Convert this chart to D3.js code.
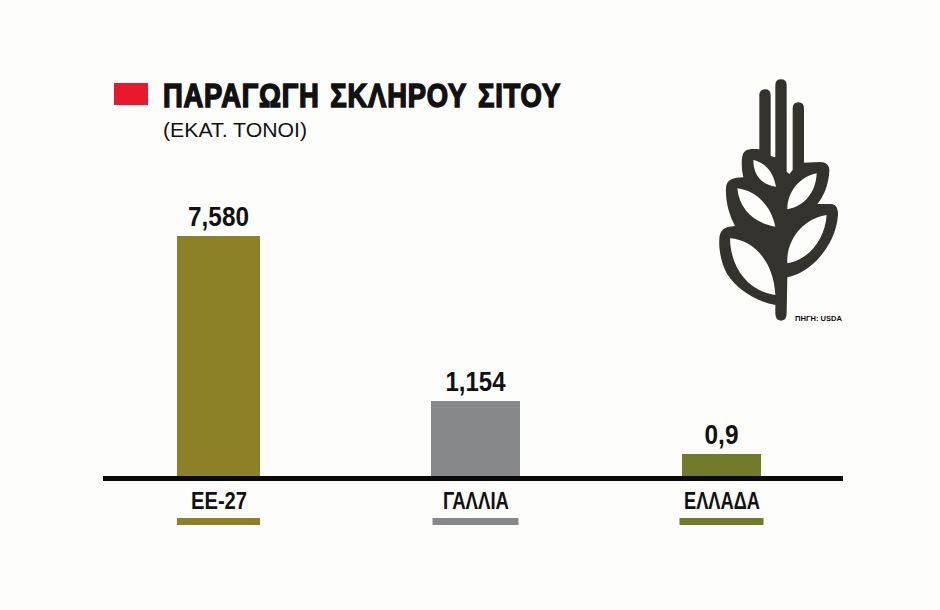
<!DOCTYPE html>
<html>
<head>
<meta charset="utf-8">
<script src="https://d3js.org/d3.v7.min.js"></script>
<style>
  html, body { margin: 0; padding: 0; background: #fdfdfc; }
  svg { display: block; }
  text { font-family: "Liberation Sans", sans-serif; fill: #111; }
</style>
</head>
<body>
<div id="chart"></div>
<script>
// data
var categories = ["ΕΕ-27", "ΓΑΛΛΙΑ", "ΕΛΛΑΔΑ"];
var values = [7.58, 1.154, 0.9];
var valueLabels = ["7,580", "1,154", "0,9"];
var barColors = ["#8d8128", "#87888a", "#727a2c"];

var svgWidth = 940;
var svgHeight = 610;

var svg = d3.select("#chart")
  .append("svg")
  .attr("width", svgWidth)
  .attr("height", svgHeight);

// the printed bars are not to scale, so the y scale is piecewise to follow them
var yScale = d3.scaleLinear()
  .domain([0, 0.9, 1.154, 7.58])
  .range([478, 454, 401, 236]);

// bars are unevenly placed in the original
var xScale = d3.scaleOrdinal()
  .domain(categories)
  .range([218.5, 475.5, 721.5]);

var barWidth = d3.scaleOrdinal().domain(categories).range([83, 89, 79]);
var keyWidth = d3.scaleOrdinal().domain(categories).range([83, 86, 84]);
var color = d3.scaleOrdinal().domain(categories).range(barColors);

// no condensed font here, so the labels get squeezed to their original widths
var valueLength = d3.scaleOrdinal().domain(categories).range([61, 60, 34]);
var labelLength = d3.scaleOrdinal().domain(categories).range([56, 66, 76]);

// title block
svg.append("rect")
  .attr("x", 114).attr("y", 83)
  .attr("width", 34).attr("height", 22)
  .attr("fill", "#e8192c");

svg.append("text")
  .attr("x", 163).attr("y", 107)
  .attr("font-size", 34)
  .attr("font-weight", 700)
  .attr("stroke", "#111")
  .attr("stroke-width", 1.6)
  .attr("letter-spacing", 1)
  .attr("word-spacing", 3)
  .attr("textLength", 398)
  .attr("lengthAdjust", "spacingAndGlyphs")
  .text("ΠΑΡΑΓΩΓΗ ΣΚΛΗΡΟΥ ΣΙΤΟΥ");

svg.append("text")
  .attr("x", 163).attr("y", 137)
  .attr("font-size", 21)
  .attr("fill", "#222")
  .attr("textLength", 144)
  .attr("lengthAdjust", "spacingAndGlyphs")
  .text("(ΕΚΑΤ. ΤΟΝΟΙ)");

// bars
svg.selectAll(".bar")
  .data(categories)
  .enter()
  .append("rect")
  .attr("class", "bar")
  .attr("x", d => xScale(d) - barWidth(d) / 2)
  .attr("y", (d, i) => yScale(values[i]))
  .attr("width", d => barWidth(d))
  .attr("height", (d, i) => yScale(0) - yScale(values[i]))
  .attr("fill", d => color(d));

// value labels
svg.selectAll(".value")
  .data(categories)
  .enter()
  .append("text")
  .attr("class", "value")
  .attr("x", d => xScale(d))
  .attr("y", (d, i) => yScale(values[i]) - 10)
  .attr("text-anchor", "middle")
  .attr("font-size", 27)
  .attr("font-weight", 700)
  .attr("textLength", d => valueLength(d))
  .attr("lengthAdjust", "spacingAndGlyphs")
  .text((d, i) => valueLabels[i]);

// category axis
var xAxis = d3.axisBottom(xScale).tickSize(0).tickPadding(14);
var axisGroup = svg.append("g")
  .attr("transform", "translate(0, 478)")
  .call(xAxis);
axisGroup.select(".domain").remove();
axisGroup.selectAll("text")
  .attr("font-family", null)
  .attr("font-size", 24)
  .attr("font-weight", 700)
  .attr("textLength", d => labelLength(d))
  .attr("lengthAdjust", "spacingAndGlyphs");

// baseline
svg.append("line")
  .attr("x1", 103).attr("x2", 843)
  .attr("y1", 478.5).attr("y2", 478.5)
  .attr("stroke", "#0a0a0a")
  .attr("stroke-width", 5);

// colour keys under the labels
svg.selectAll(".key")
  .data(categories)
  .enter()
  .append("rect")
  .attr("class", "key")
  .attr("x", d => xScale(d) - keyWidth(d) / 2)
  .attr("y", 518)
  .attr("width", d => keyWidth(d))
  .attr("height", 7)
  .attr("fill", d => color(d));

// wheat icon, traced in zoomed coordinates
svg.append("path")
  .attr("transform", "translate(700,70) scale(0.3333)")
  .attr("fill", "#33322c")
  .attr("fill-rule", "evenodd")
  .attr("d", "M226,45 Q226,28 243,28 Q260,28 260,45 L260,305 L268,312 L278,300 L278,115 Q278,97 295,97 Q312,97 312,115 L312,278 "
    + "L360,276 C380,276 390,288 388,305 C385,345 372,378 352,402 L392,402 C408,402 415,415 414,435 C410,490 385,530 360,560 C330,595 295,615 262,622 L260,730 "
    + "Q260,752 243,752 Q226,752 226,730 L226,705 C170,695 110,660 80,610 C62,575 56,535 58,505 C60,480 72,470 105,468 C85,430 76,390 78,352 "
    + "C80,330 100,322 130,322 C124,295 124,270 128,255 C132,240 145,234 178,238 L178,75 Q178,58 195,58 Q212,58 212,75 L212,258 L226,262 Z "
    + "M160,270 C195,278 220,305 228,350 C190,345 160,320 160,270 Z "
    + "M112,355 C170,362 215,410 226,470 C165,460 118,420 112,355 Z "
    + "M90,505 C165,510 222,580 226,675 C150,665 92,600 90,505 Z "
    + "M350,310 C348,370 310,410 262,418 C262,365 300,320 350,310 Z "
    + "M380,435 C375,510 325,570 262,580 C258,510 310,445 380,435 Z");

// source
svg.append("text")
  .attr("x", 795).attr("y", 321)
  .attr("font-size", 8)
  .attr("font-weight", 700)
  .attr("fill", "#444")
  .attr("textLength", 47)
  .attr("lengthAdjust", "spacingAndGlyphs")
  .text("ΠΗΓΗ: USDA");
</script>
</body>
</html>
